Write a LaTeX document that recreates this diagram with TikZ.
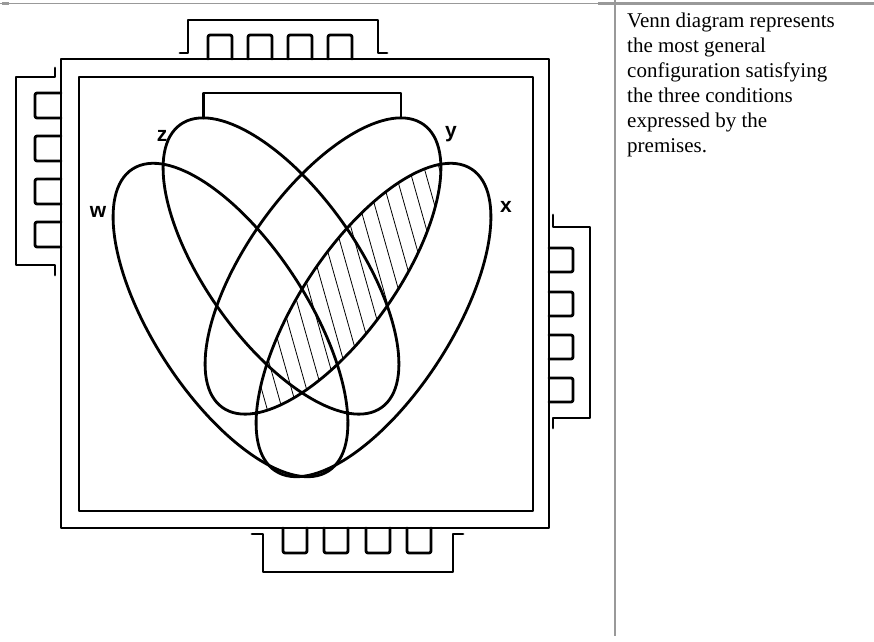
\documentclass[tikz,border=0pt]{standalone}
\usepackage{fontspec}
\setmainfont{Liberation Serif}
\newfontfamily\labelfont{Liberation Sans}
\usetikzlibrary{positioning}

\tikzset{
  heavy/.style={line width=2.8pt, line join=round, line cap=round},
  hatchline/.style={line width=0.8pt},
  tablerule/.style={draw=black!40},
  setlabel/.style={font=\labelfont\bfseries\fontsize{21}{21}\selectfont, inner sep=0pt},
}

\begin{document}
\begin{tikzpicture}[x=1pt,y=-1pt]
\useasboundingbox (0,0) rectangle (874,641);
% table rules
\draw[tablerule, line width=1pt] (0,3.5) -- (598,3.5);
\draw[tablerule, line width=2.6pt] (598,3.5) -- (874,3.5);
\draw[tablerule, line width=2.6pt] (615,0) -- (615,636);
\fill[black!40] (2,2) rectangle (9,5);

% double frame
\draw[heavy] (61,59) rectangle (549,528);
\draw[heavy] (79,77) rectangle (533,511);

% tabs with their little boxes
\draw[heavy] (180,53) -- (188,53) -- (188,20) -- (378,20) -- (378,53) -- (387,53);
\foreach \bx in {208,248,288,328}
  \draw[heavy,rounded corners=2pt] (\bx,59) -- (\bx,35) -- (\bx+24,35) -- (\bx+24,59);
\draw[heavy] (252,534) -- (263,534) -- (263,572) -- (453,572) -- (453,534) -- (463,534);
\foreach \bx in {283,324,366,407}
  \draw[heavy,rounded corners=2pt] (\bx,528) -- (\bx,553) -- (\bx+24,553) -- (\bx+24,528);
\draw[heavy] (55,68) -- (55,77) -- (16,77) -- (16,265) -- (55,265) -- (55,275);
\foreach \by in {93,136,179,222}
  \draw[heavy,rounded corners=2pt] (61,\by) -- (35,\by) -- (35,\by+25) -- (61,\by+25);
\draw[heavy] (553,215) -- (553,227) -- (590,227) -- (590,418) -- (553,418) -- (553,428);
\foreach \by in {248,292,335,378}
  \draw[heavy,rounded corners=2pt] (549,\by) -- (573,\by) -- (573,\by+24) -- (549,\by+24);

% ellipse centres
\coordinate (cw) at (230.5,320);
\coordinate (cx) at (373.5,320);
\coordinate (cz) at (281,266);
\coordinate (cy) at (323,266);

% shaded part: inside x and y
\begin{scope}
  \clip[shift={(cx)},rotate=57] (0,0) ellipse [x radius=180, y radius=77];
  \clip[shift={(cy)},rotate=54.6] (0,0) ellipse [x radius=173.6, y radius=75.5];
  \foreach \u in {165,180,...,435}
    \draw[hatchline] (\u,100) -- ++(110,390);
\end{scope}

% the four sets
\draw[heavy,shift={(cw)},rotate=-57] (0,0) ellipse [x radius=180, y radius=77];
\draw[heavy,shift={(cx)},rotate=57] (0,0) ellipse [x radius=180, y radius=77];
\draw[heavy,shift={(cz)},rotate=-54.6] (0,0) ellipse [x radius=173.6, y radius=75.5];
\draw[heavy,shift={(cy)},rotate=54.6] (0,0) ellipse [x radius=173.6, y radius=75.5];

% bracket joining z and y
\coordinate (ztop) at (203.1,117.9);
\coordinate (ytop) at (400.9,117.9);
\draw[heavy] (ztop) -- ++(0,-25) -| (ytop);

\node[setlabel] (lz) at (162,136) {z};
\node[setlabel] (lw) at (98,212) {w};
\node[setlabel] (ly) at (451,134) {y};
\node[setlabel] (lx) at (506,207) {x};

\node[anchor=north west, align=left, inner sep=0pt, font=\fontsize{21}{25}\selectfont] (caption) at (627,13)
  {Venn diagram represents\\the most general\\configuration satisfying\\the three conditions\\expressed by the\\premises.};
\end{tikzpicture}
\end{document}
